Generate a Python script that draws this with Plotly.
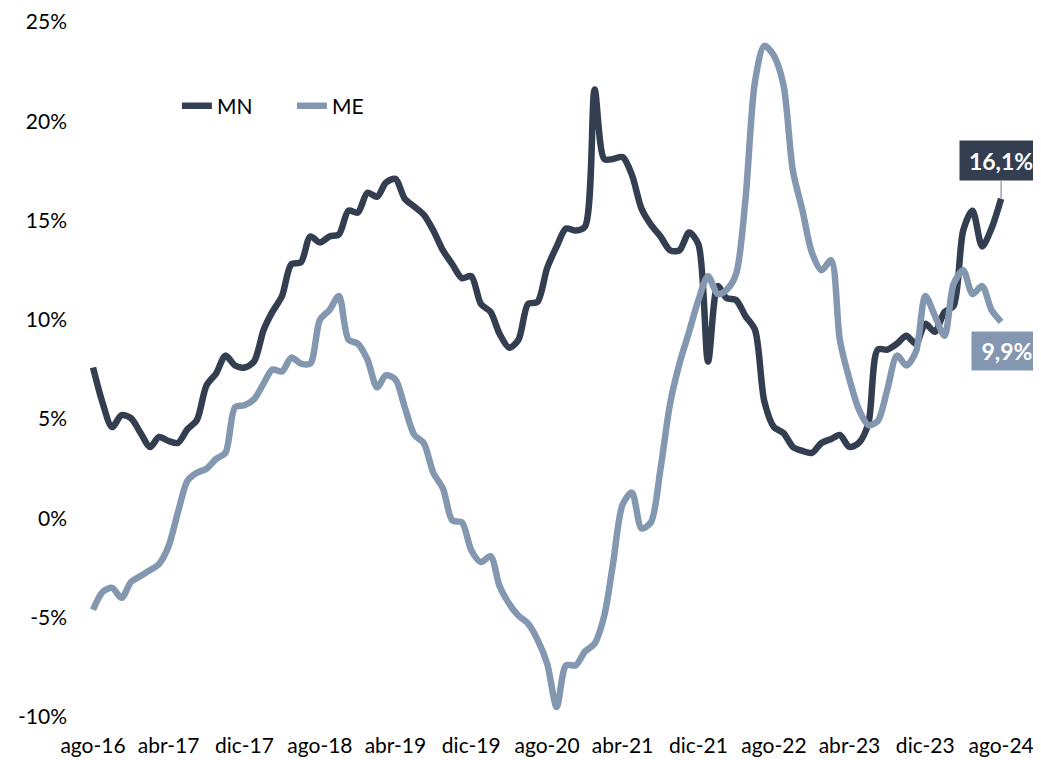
import pandas as pd
import plotly.graph_objects as go

months = pd.date_range("2016-08-01", periods=97, freq="MS")

mn = [7.6, 5.8, 4.6, 5.2, 5.05, 4.3, 3.6, 4.1, 3.9, 3.8,
      4.5, 4.95, 6.7, 7.3, 8.2, 7.7, 7.6, 7.9, 9.5, 10.4,
      11.2, 12.8, 12.9, 14.2, 13.9, 14.2, 14.3, 15.5, 15.4, 16.4,
      16.2, 16.9, 17.1, 16.1, 15.7, 15.3, 14.5, 13.5, 12.8, 12.1,
      12.2, 10.8, 10.4, 9.3, 8.6, 9.0, 10.8, 10.9, 12.6, 13.7,
      14.6, 14.5, 14.7, 21.6, 18.1, 18.1, 18.2, 17.3, 15.6, 14.8,
      14.2, 13.5, 13.5, 14.4, 13.8, 7.9, 11.7, 11.1, 11.0, 10.2,
      9.5, 5.9, 4.6, 4.3, 3.6, 3.4, 3.3, 3.8, 4.0, 4.2,
      3.6, 3.8, 4.8, 8.5, 8.5, 8.8, 9.2, 8.8, 9.8, 9.4,
      10.4, 10.7, 14.5, 15.5, 13.7, 14.6, 16.1]

me = [-4.6, -3.7, -3.5, -4.0, -3.2, -2.9, -2.6, -2.3, -1.4, 0.3,
      1.9, 2.3, 2.5, 3.0, 3.3, 5.6, 5.7, 6.0, 6.8, 7.5,
      7.4, 8.1, 7.8, 7.8, 10.0, 10.5, 11.2, 9.0, 8.8, 8.0,
      6.6, 7.2, 7.0, 5.6, 4.2, 3.8, 2.3, 1.5, -0.1, -0.2,
      -1.6, -2.2, -1.9, -3.4, -4.3, -4.9, -5.3, -6.1, -7.3, -9.5,
      -7.4, -7.4, -6.7, -6.3, -4.9, -2.3, 0.7, 1.3, -0.5, -0.2,
      2.5, 5.8, 7.8, 9.4, 11.0, 12.2, 11.3, 11.5, 12.3, 16.0,
      22.0, 23.8, 23.3, 21.8, 17.5, 15.5, 13.4, 12.5, 13.0, 9.0,
      7.0, 5.5, 4.7, 4.9, 6.5, 8.2, 7.7, 8.4, 11.2, 10.2,
      9.2, 11.8, 12.5, 11.3, 11.7, 10.5, 9.9]

tick_labels = ["ago-16", "abr-17", "dic-17", "ago-18", "abr-19", "dic-19", "ago-20",
               "abr-21", "dic-21", "ago-22", "abr-23", "dic-23", "ago-24"]
tick_dates = months[::8]

y_tickvals = [-10, -5, 0, 5, 10, 15, 20, 25]
y_ticktext = ["-10%", "-5%", "0%", "5%", "10%", "15%", "20%", "25%"]

C_MN = "#333F50"
C_ME = "#8497B0"
FONT = "Lato"

fig = go.Figure()
fig.add_trace(go.Scatter(x=months, y=mn, name="MN", mode="lines",
                         line=dict(color=C_MN, width=6.5, shape="spline", smoothing=0.8)))
fig.add_trace(go.Scatter(x=months, y=me, name="ME", mode="lines",
                         line=dict(color=C_ME, width=6.5, shape="spline", smoothing=0.8)))

fig.add_annotation(x=months[-1], y=mn[-1], text="<b>16,1%</b>", showarrow=True,
                   arrowhead=0, arrowwidth=1.5, arrowcolor="#A6A6A6", ax=0, ay=-38,
                   standoff=0, bgcolor=C_MN, font=dict(family=FONT, size=23, color="white"),
                   width=80, height=37, align="center", valign="middle")
fig.add_annotation(x=months[-1], y=me[-1], text="<b>9,9%</b>", showarrow=False,
                   xshift=6, yshift=-29, bgcolor=C_ME,
                   font=dict(family=FONT, size=23, color="white"),
                   width=68, height=36, align="center", valign="middle")

fig.update_layout(
    width=1033, height=752,
    margin=dict(l=72, r=20, t=14, b=43),
    paper_bgcolor="white", plot_bgcolor="white",
    font=dict(family=FONT, size=21, color="#000000"),
    showlegend=True,
    legend=dict(orientation="h", x=0.103, y=0.879, xanchor="left", yanchor="middle",
                font=dict(family=FONT, size=21, color="#000000"),
                bgcolor="rgba(0,0,0,0)", entrywidth=70, entrywidthmode="pixels",
                tracegroupgap=0),
    hovermode=False,
)
fig.update_xaxes(range=["2016-06-20", "2024-10-04"], tickvals=tick_dates, ticktext=tick_labels,
                 showgrid=False, zeroline=False, showline=False, ticks="",
                 ticklabelstandoff=14, automargin=False,
                 tickfont=dict(family=FONT, size=21, color="#000000"))
fig.update_yaxes(range=[-10, 25], tickvals=y_tickvals, ticktext=y_ticktext,
                 showgrid=False, zeroline=False,
                 showline=False, ticks="", ticklabelstandoff=12, automargin=False,
                 tickfont=dict(family=FONT, size=21, color="#000000"))

fig.write_html("out.html")
